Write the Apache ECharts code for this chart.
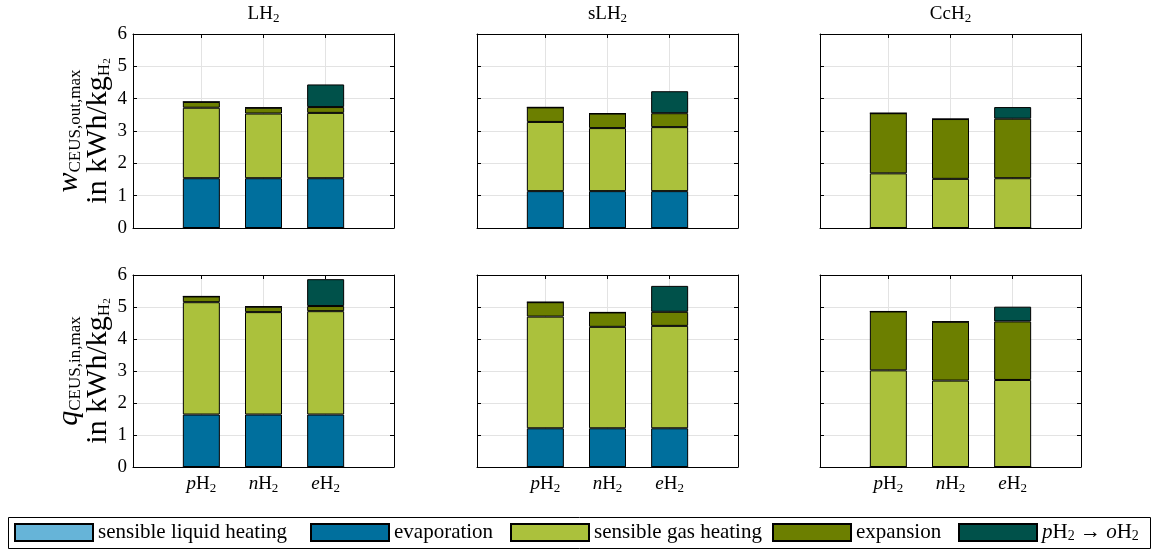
<!DOCTYPE html>
<html><head><meta charset="utf-8">
<script src="https://cdn.jsdelivr.net/npm/echarts@6/dist/echarts.min.js"></script>
<style>html,body{margin:0;padding:0;background:#fff}#c{width:1154px;height:549px}</style>
</head><body><div id="c"></div>
<script>
// ---------- data ----------
const categories = ['p', 'n', 'e'];           // pH2, nH2, eH2
const categoryPositions = [1, 2, 3];
const panelTitles = ['LH', 'sLH', 'CcH'];
const seriesNames = ['sensible liquid heating', 'evaporation', 'sensible gas heating', 'expansion', 'pH2 → oH2'];
const yTicks = [0, 1, 2, 3, 4, 5, 6];

// top row: w_CEUS,out,max  (per panel LH2, sLH2, CcH2; per category pH2, nH2, eH2)
const outLiquid      = [[0, 0, 0], [0, 0, 0], [0, 0, 0]];
const outEvaporation = [[1.54, 1.54, 1.54], [1.14, 1.14, 1.14], [0, 0, 0]];
const outGas         = [[2.18, 2.00, 2.02], [2.14, 1.95, 1.98], [1.69, 1.52, 1.54]];
const outExpansion   = [[0.18, 0.18, 0.18], [0.45, 0.45, 0.43], [1.86, 1.85, 1.84]];
const outConversion  = [[0, 0, 0.70], [0, 0, 0.68], [0, 0, 0.36]];

// bottom row: q_CEUS,in,max
const inLiquid      = [[0, 0, 0], [0, 0, 0], [0, 0, 0]];
const inEvaporation = [[1.64, 1.64, 1.64], [1.21, 1.21, 1.21], [0, 0, 0]];
const inGas         = [[3.51, 3.20, 3.23], [3.49, 3.17, 3.20], [3.02, 2.70, 2.72]];
const inExpansion   = [[0.18, 0.17, 0.16], [0.45, 0.45, 0.44], [1.84, 1.84, 1.83]];
const inConversion  = [[0, 0, 0.84], [0, 0, 0.81], [0, 0, 0.46]];

// ---------- style ----------
const FONT = "'Liberation Serif', 'DejaVu Serif', serif";
const seriesColors = ['#66b4d8', '#006f9d', '#abc13c', '#6c7f00', '#00514a'];
const colLefts = [133, 477, 820];
const gridW = 261;
const rowTops = [34, 275];
const rowHeights = [194, 192];

const rowData = [
  [outLiquid, outEvaporation, outGas, outExpansion, outConversion],
  [inLiquid, inEvaporation, inGas, inExpansion, inConversion]
];

const subRich = {
  i: { fontFamily: FONT, fontStyle: 'italic', fontSize: 19, color: '#000', lineHeight: 22 },
  n: { fontFamily: FONT, fontSize: 19, color: '#000', lineHeight: 22 },
  s: { fontFamily: FONT, fontSize: 13, color: '#000', verticalAlign: 'bottom', lineHeight: 12 }
};

const yNameRich = {
  w: { fontFamily: FONT, fontStyle: 'italic', fontSize: 30, color: '#000', lineHeight: 29, verticalAlign: 'middle' },
  s: { fontFamily: FONT, fontSize: 17, color: '#000', verticalAlign: 'bottom', lineHeight: 15 },
  n: { fontFamily: FONT, fontSize: 30, color: '#000', lineHeight: 29, verticalAlign: 'middle' },
  ss: { fontFamily: FONT, fontSize: 11, color: '#000', verticalAlign: 'bottom', lineHeight: 10 }
};
const yNames = [
  '{w|w}{s|CEUS,out,max}\n{n|in kWh/kg}{s|H}{ss|2}',
  '{w|q}{s|CEUS,in,max}\n{n|in kWh/kg}{s|H}{ss|2}'
];

const grids = [], xAxes = [], yAxes = [], series = [];
let k = 0;
for (let r = 0; r < 2; r++) {
  for (let c = 0; c < 3; c++) {
    grids.push({ left: colLefts[c], top: rowTops[r], width: gridW, height: rowHeights[r], containLabel: false });
    // bottom x axis
    xAxes.push({
      type: 'value', gridIndex: k, position: 'bottom', min: -0.1, max: 4.1,
      axisLine: { show: true, onZero: false, lineStyle: { color: '#000', width: 1 } },
      axisTick: { show: true, inside: true, length: 4, customValues: categoryPositions, lineStyle: { color: '#000' } },
      axisLabel: {
        show: r === 1, customValues: categoryPositions, margin: 6,
        formatter: v => '{i|' + categories[Math.round(v) - 1] + '}{n|H}{s|2}', rich: subRich
      },
      splitLine: { show: true, lineStyle: { color: '#e3e3e3', width: 1 } }
    });
    // top x axis (ticks + title)
    xAxes.push({
      type: 'value', gridIndex: k, position: 'top', min: -0.1, max: 4.1,
      axisLine: { show: true, onZero: false, lineStyle: { color: '#000', width: 1 } },
      axisTick: { show: true, inside: true, length: 4, customValues: categoryPositions, lineStyle: { color: '#000' } },
      axisLabel: { show: false },
      splitLine: { show: false },
      name: r === 0 ? '{n|' + panelTitles[c] + '}{s|2}' : '',
      nameLocation: 'middle', nameGap: 9,
      nameTextStyle: { rich: subRich }
    });
    // left y axis
    yAxes.push({
      type: 'value', gridIndex: k, position: 'left', min: 0, max: 6, interval: 1,
      axisLine: { show: true, onZero: false, lineStyle: { color: '#000', width: 1 } },
      axisTick: { show: true, inside: true, length: 4, lineStyle: { color: '#000' } },
      axisLabel: { show: c === 0, fontFamily: FONT, fontSize: 19, color: '#000', margin: 6,
                   formatter: v => String(yTicks[v]) },
      splitLine: { show: true, lineStyle: { color: '#e3e3e3', width: 1 } },
      name: c === 0 ? yNames[r] : '',
      nameLocation: 'middle', nameRotate: 90, nameGap: 14,
      nameTextStyle: { rich: yNameRich }
    });
    // right y axis
    yAxes.push({
      type: 'value', gridIndex: k, position: 'right', min: 0, max: 6, interval: 1,
      axisLine: { show: true, onZero: false, lineStyle: { color: '#000', width: 1 } },
      axisTick: { show: true, inside: true, length: 4, lineStyle: { color: '#000' } },
      axisLabel: { show: false },
      splitLine: { show: false }
    });
    for (let s = 0; s < 5; s++) {
      const vals = rowData[r][s][c];
      series.push({
        type: 'bar', name: seriesNames[s], xAxisIndex: 2 * k, yAxisIndex: 2 * k,
        stack: 'panel' + k, barWidth: 37,
        dimensions: ['value', 'pos'],
        encode: { x: 'pos', y: 'value' },
        itemStyle: { color: seriesColors[s], borderColor: '#000', borderWidth: 1 },
        emphasis: { disabled: true },
        data: vals.map((v, i) => [v, categoryPositions[i]])
      });
    }
    k++;
  }
}

const legendLefts = [14, 310, 510, 772, 958];
const legends = seriesNames.map((nm, i) => ({
  data: [nm], left: legendLefts[i], top: 522, orient: 'horizontal', padding: 0,
  itemWidth: 78, itemHeight: 17, itemGap: 5, selectedMode: false,
  icon: 'rect',
  textStyle: { fontFamily: FONT, fontSize: 21, color: '#000', padding: [0, 0, 0, 0],
    rich: {
      i: { fontFamily: FONT, fontStyle: 'italic', fontSize: 21, color: '#000' },
      n: { fontFamily: FONT, fontSize: 21, color: '#000' },
      s: { fontFamily: FONT, fontSize: 14, color: '#000', verticalAlign: 'bottom', lineHeight: 10 }
    }
  },
  formatter: name => name === 'pH2 → oH2' ? '{i|p}{n|H}{s|2}{n| → }{i|o}{n|H}{s|2}' : name
}));

const chart = echarts.init(document.getElementById('c'), null, { renderer: 'canvas' });
chart.setOption({
  animation: false,
  backgroundColor: '#fff',
  grid: grids, xAxis: xAxes, yAxis: yAxes, series: series,
  legend: legends,
  graphic: [{
    type: 'rect', left: 6, top: 515, shape: { width: 1142, height: 31 },
    style: { fill: 'none', stroke: '#000', lineWidth: 1 }, silent: true
  }]
});
</script></body></html>
